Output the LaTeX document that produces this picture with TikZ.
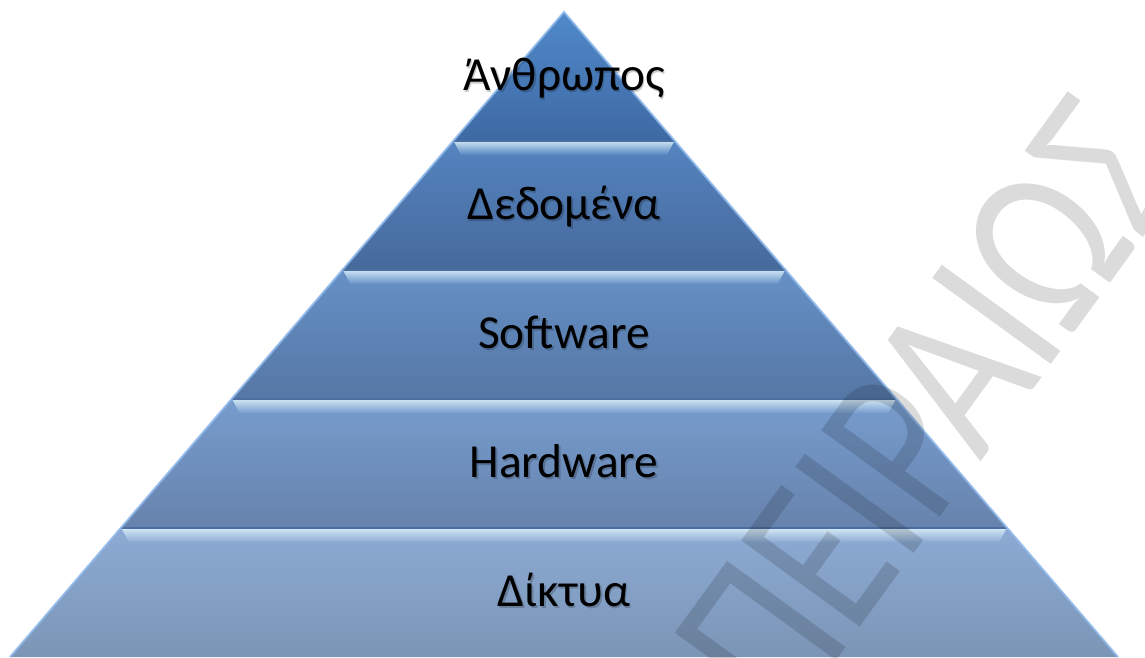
\documentclass[tikz,border=0pt]{standalone}
\usepackage{fontspec}
\setmainfont{Carlito}
\newfontfamily\stampfont[FakeStretch=0.8]{Carlito}
\usetikzlibrary{calc}

\definecolor{shine}{HTML}{E6F8FE}
\definecolor{seam}{HTML}{4A6E9F}
\definecolor{rimlight}{HTML}{8DB8EC}

\begin{document}
\begin{tikzpicture}[x=0.02cm,y=-0.02cm,
    level/.style={font=\fontsize{27}{32}\selectfont,text=black,anchor=base},
    strip/.style={top color=shine!75!#1,middle color=shine,bottom color=#1},
    rim/.style={draw=rimlight,line width=1.2pt,opacity=.8},
    stamp/.style={font=\stampfont\fontsize{130}{130}\selectfont,text=black,text opacity=.14,rotate=54}
]
\useasboundingbox (0,0) rectangle (1145,657);

\coordinate (apex) at (564,12);
\coordinate (baseL) at (10,657);
\coordinate (baseR) at (1118,657);
\coordinate (axis) at (564,657);

\foreach \k/\ct/\cb in {1/5089CA/3E69A3,2/5584C0/46699B,3/6690C6/5577A5,4/769CCD/6783AD,5/8CAAD3/7B95B6}{
  \pgfmathsetmacro\ta{(\k-1)/5}
  \pgfmathsetmacro\tb{\k/5}
  \definecolor{ctop}{HTML}{\ct}
  \definecolor{cbot}{HTML}{\cb}
  \coordinate (tl\k) at ($(apex)!\ta!(baseL)$);
  \coordinate (tr\k) at ($(apex)!\ta!(baseR)$);
  \coordinate (bl\k) at ($(apex)!\tb!(baseL)$);
  \coordinate (br\k) at ($(apex)!\tb!(baseR)$);
  \shade[top color=ctop,bottom color=cbot] (tl\k) -- (bl\k) -- (br\k) -- (tr\k) -- cycle;
  \ifnum\k>1
    \shade[strip=ctop] ($(tl\k)+(1,1)$) -- ($(tr\k)+(-1,1)$) -- ($(tr\k)+(-8,14)$) -- ($(tl\k)+(8,14)$) -- cycle;
    \draw[seam,line width=0.9pt] (tl\k) -- (tr\k);
  \fi
}

\draw[rim] (baseL) -- (apex) -- (baseR);

\foreach \k/\txt in {1/Άνθρωπος,2/Δεδομένα,3/Software,4/Hardware,5/Δίκτυα}{
  \pgfmathsetmacro\tm{(\k-0.5)/5}
  \node[level,text opacity=.2] (sh\k) at ($(apex)!\tm!(axis)+(1.5,15.5)$) {\txt};
  \node[level] (lab\k) at ($(apex)!\tm!(axis)+(0,13.5)$) {\txt};
}

\begin{scope}
  \clip (0,0) rectangle (1145,657);
  \node[stamp] (mark) at (928,408) {ΠΕΙΡΑΙΩΣ};
\end{scope}
\end{tikzpicture}
\end{document}
